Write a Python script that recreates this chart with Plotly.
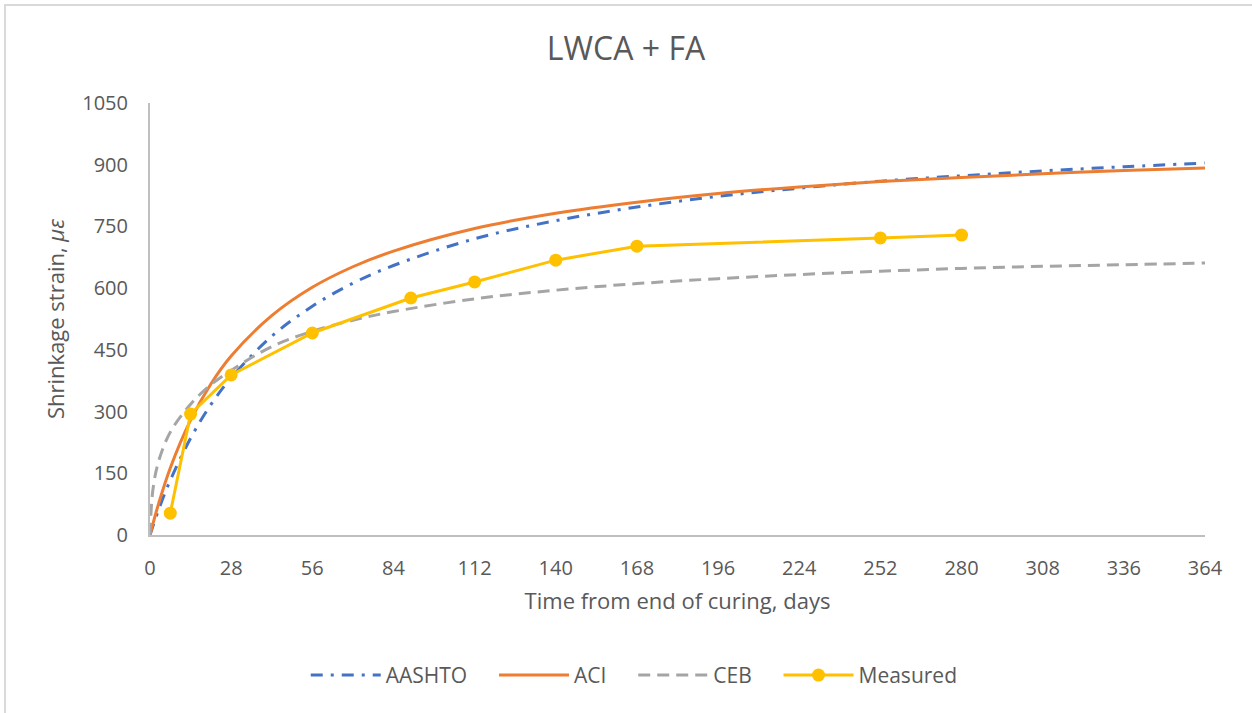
import plotly.graph_objects as go

# Time axis for model curves (days)
model_days = [0, 1, 3, 7, 14, 21, 28, 42, 56, 70, 84, 112, 140, 168, 196, 224, 252, 280, 308, 336, 364]
aashto = [0, 21, 62, 133, 235, 317, 382, 483, 556, 612, 655, 720, 764, 797, 823, 843, 860, 873, 885, 895, 904]
aci = [0, 27, 77, 163, 279, 367, 435, 533, 602, 652, 690, 745, 782, 809, 830, 846, 859, 869, 878, 886, 892]
ceb = [0, 110, 180, 250, 318, 365, 400, 458, 495, 522, 543, 574, 595, 611, 623, 633, 641, 648, 653, 657, 661]

measured_days = [7, 14, 28, 56, 90, 112, 140, 168, 252, 280]
measured = [53, 294, 389, 491, 576, 615, 668, 702, 722, 729]

x_ticks = list(range(0, 365, 28))
y_ticks = list(range(0, 1051, 150))

FONT = "Open Sans"
TXT = "#595959"
PAD = "\u00a0" * 4

fig = go.Figure()
fig.add_trace(go.Scatter(x=model_days, y=aashto, mode="lines", name="AASHTO" + PAD,
                         line=dict(color="#4472C4", width=3, dash="12px,8px,3px,8px", shape="spline")))
fig.add_trace(go.Scatter(x=model_days, y=aci, mode="lines", name="ACI" + PAD,
                         line=dict(color="#ED7D31", width=3, shape="spline")))
fig.add_trace(go.Scatter(x=model_days, y=ceb, mode="lines", name="CEB" + PAD,
                         line=dict(color="#A5A5A5", width=3, dash="12px,7px", shape="spline")))
fig.add_trace(go.Scatter(x=measured_days, y=measured, mode="lines+markers", name="Measured",
                         line=dict(color="#FFC000", width=3),
                         marker=dict(color="#FFC000", size=13)))

fig.update_layout(
    width=1252, height=713,
    margin=dict(l=150, r=47, t=103, b=178),
    paper_bgcolor="white", plot_bgcolor="white",
    font=dict(family=FONT, color=TXT, size=20),
    title=dict(text="LWCA + FA", x=0.5, xanchor="center", y=0.931, yanchor="middle",
               font=dict(size=32, color=TXT, family=FONT)),
    showlegend=True,
    legend=dict(orientation="h", x=0.459, xanchor="center", y=-0.325, yanchor="middle",
                font=dict(size=21, color=TXT), itemwidth=70, tracegroupgap=0),
    xaxis=dict(range=[0, 364], tickvals=x_ticks, ticktext=[str(v) for v in x_ticks],
               showgrid=False, zeroline=False, showline=True, linecolor="#BFBFBF", linewidth=2,
               ticks="", ticklabelstandoff=14,
               title=dict(text="Time from end of curing, days", font=dict(size=22, color=TXT), standoff=14)),
    yaxis=dict(range=[0, 1050], tickvals=y_ticks, ticktext=[str(v) for v in y_ticks],
               showgrid=False, zeroline=False, showline=True, linecolor="#BFBFBF", linewidth=2,
               ticks="", ticklabelstandoff=16,
               title=dict(text="Shrinkage strain, <i>με</i>", font=dict(size=22, color=TXT), standoff=12)),
    shapes=[dict(type="rect", xref="paper", yref="paper", x0=-0.1374, x1=1.2, y0=-0.6, y1=1.2269,
                 line=dict(color="#D9D9D9", width=2), fillcolor="rgba(0,0,0,0)", layer="below")],
)

fig.write_html("out.html", config={"displayModeBar": False},
               post_script="document.body.style.margin='0';")
